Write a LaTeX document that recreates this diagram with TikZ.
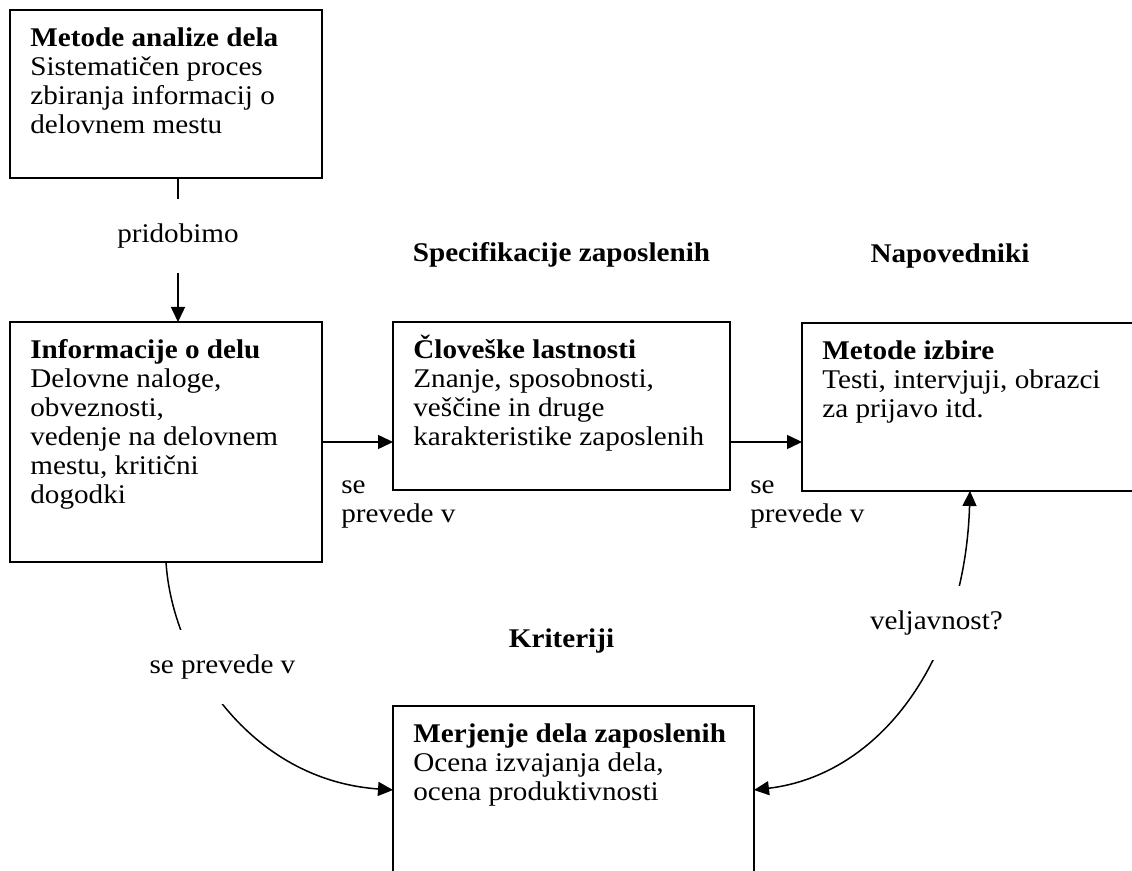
\documentclass[tikz,border=0pt]{standalone}
\usepackage{fontspec}
\setmainfont{Liberation Serif}[FakeStretch=1.08]
\usepackage{tikz}
\usetikzlibrary{arrows.meta,positioning}

\begin{document}
\begin{tikzpicture}[x=0.5pt, y=-0.5pt,
    font=\fontsize{13.5}{14.5}\selectfont,
    >={Triangle[length=7.5pt,width=7pt]},
    box/.style={draw, line width=1pt, anchor=north west, inner sep=0pt,
                outer sep=0pt, minimum height=84pt},
    boxtext/.style={anchor=north west, align=left, inner sep=0pt,
                    xshift=10pt, yshift=-8.6pt, execute at begin node=\strut},
    head/.style={font=\fontsize{13.5}{14.5}\selectfont\bfseries, inner sep=0pt},
    note/.style={anchor=north west, align=left, inner sep=0pt,
                 execute at begin node=\strut},
    conn/.style={line width=0.75pt, ->},
    gap/.style={fill=white, inner xsep=2pt, inner ysep=12.4pt}]
    \path[use as bounding box, clip] (0,0) rectangle (1132,871);

    % boxes
    \node[box, minimum width=156pt,
          label={[boxtext]north west:{\textbf{Metode analize dela}\\Sistematičen proces\\zbiranja informacij o\\delovnem mestu}}]
          (analiza) at (10,10) {};
    \node[box, minimum width=156pt, minimum height=120pt,
          label={[boxtext]north west:{\textbf{Informacije o delu}\\Delovne naloge,\\obveznosti,\\vedenje na delovnem\\mestu, kritični\\dogodki}}]
          (informacije) at (10,322) {};
    \node[box, minimum width=168.5pt,
          label={[boxtext]north west:{\textbf{\smash{Č}loveške lastnosti}\\Znanje, sposobnosti,\\veščine in druge\\karakteristike zaposlenih}}]
          (lastnosti) at (393,322) {};
    \node[box, minimum width=168pt,
          label={[boxtext]north west:{\textbf{Metode izbire}\\Testi, intervjuji, obrazci\\za prijavo itd.}}]
          (izbira) at (802,323) {};
    \node[box, minimum width=180.5pt,
          label={[boxtext]north west:{\textbf{Merjenje dela zaposlenih}\\Ocena izvajanja dela,\\ocena produktivnosti}}]
          (merjenje) at (393,706) {};

    % headings
    \node[head, above=27pt of lastnosti] (specifikacije) {Specifikacije zaposlenih};
    \node[head, above=27pt of izbira, xshift=-10pt] (napovedniki) {Napovedniki};
    \node[head, above=26pt of merjenje, xshift=-6pt] (kriteriji) {Kriteriji};

    % connectors
    \draw[conn] ([xshift=6pt]analiza.south) -- ([xshift=6pt]informacije.north)
        node[gap, pos=.4] {pridobimo};
    \draw[conn] (informacije.east) -- (informacije.east -| lastnosti.west);
    \draw[conn] (informacije.east -| lastnosti.east) -- (informacije.east -| izbira.west);
    \node[note] (prevod1) at (341,480) {se\\prevede v};
    \node[note] (prevod2) at (750,480) {se\\prevede v};

    \draw[conn] (informacije.south) .. controls (172,660) and (250,780) .. (merjenje.west)
        node[gap, pos=.35, xshift=12pt] {se prevede v};
    \draw[conn, <->] (izbira.south) .. controls (965,660) and (880,775) .. (merjenje.east)
        node[gap, pos=.29, xshift=-5pt] {veljavnost?};
\end{tikzpicture}
\end{document}
